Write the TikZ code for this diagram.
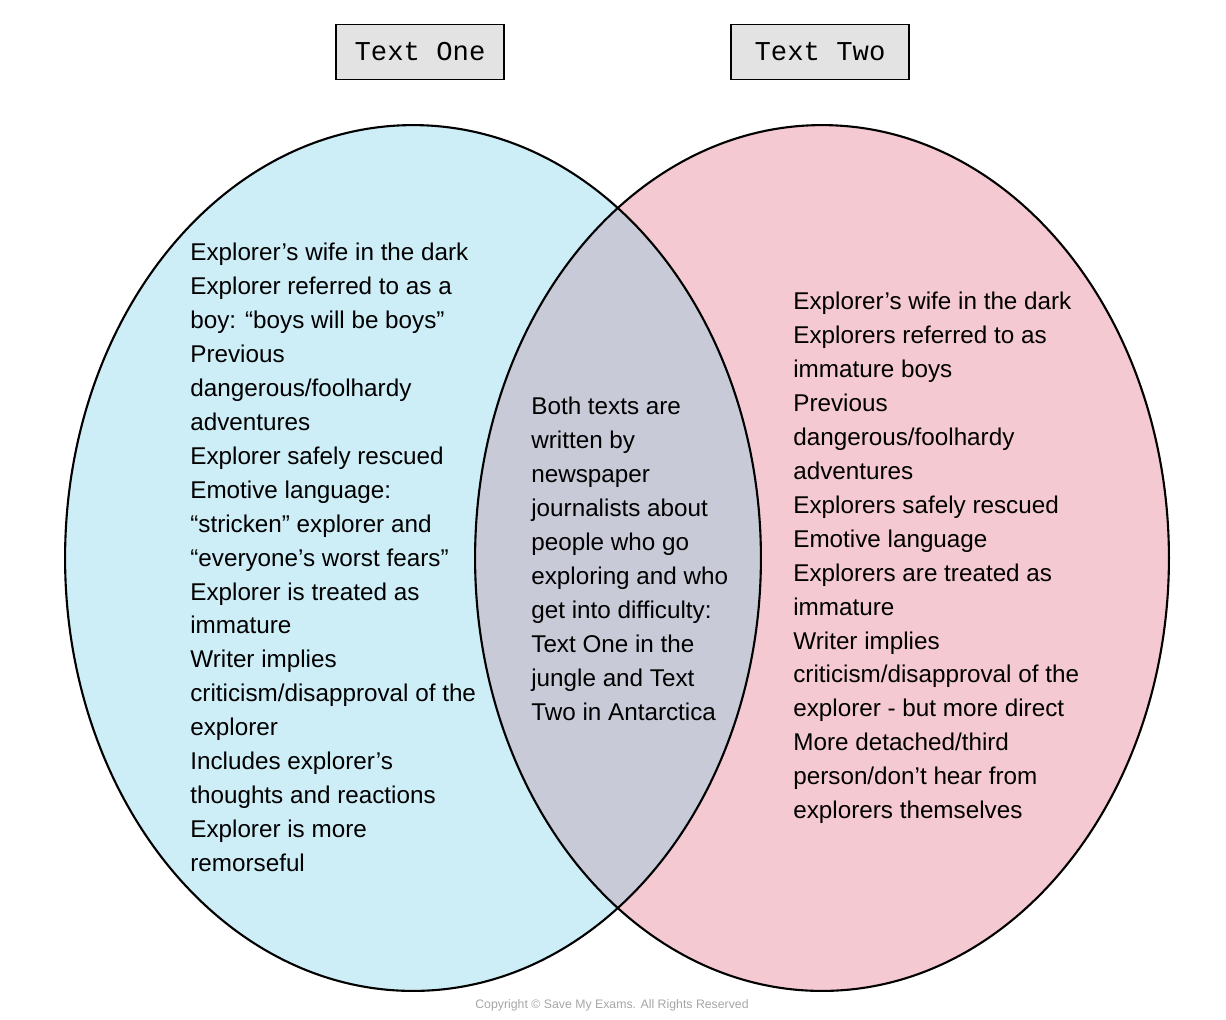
\documentclass[tikz,border=0pt]{standalone}
\usepackage{fontspec}
\setmainfont{Liberation Sans}
\newfontfamily\titlefont{Liberation Mono}
\usetikzlibrary{positioning}
\definecolor{oneblue}{RGB}{205,237,247}
\definecolor{twopink}{RGB}{244,201,209}
\definecolor{bothgrey}{RGB}{200,202,216}
\definecolor{boxgrey}{RGB}{227,227,227}
\tikzset{
    titlebox/.style={draw=black,fill=boxgrey,line width=0.9pt,minimum width=3.36cm,minimum height=1.1cm,font=\titlefont\fontsize{15.5}{18}\selectfont},
    venntext/.style={anchor=north west,inner sep=0pt,align=left,font=\fontsize{13.8}{19.3}\selectfont},
    vennline/.style={draw=black,line width=1.2pt}
}

\begin{document}
\begin{tikzpicture}[x=0.02cm,y=-0.02cm]
    \useasboundingbox (0,0) rectangle (1226,1019);
    %Circles
    \coordinate (one) at (413,558);
    \coordinate (two) at (822,558);
    \fill[oneblue] (one) ellipse [x radius=6.96cm,y radius=8.66cm];
    \fill[twopink] (two) ellipse [x radius=6.94cm,y radius=8.66cm];
    \begin{scope}
        \clip (one) ellipse [x radius=6.96cm,y radius=8.66cm];
        \fill[bothgrey] (two) ellipse [x radius=6.94cm,y radius=8.66cm];
    \end{scope}
    \draw[vennline] (one) ellipse [x radius=6.96cm,y radius=8.66cm];
    \draw[vennline] (two) ellipse [x radius=6.94cm,y radius=8.66cm];
    %Titles
    \node[titlebox] (titleone) at (420,52) {Text One};
    \node[titlebox,minimum width=3.56cm] (titletwo) at (820,52) {Text Two};
    %Text One only
    \node[venntext] (onlyone) at (190,243) {Explorer’s wife in the dark\\Explorer referred to as a\\boy: “boys will be boys”\\Previous\\dangerous/foolhardy\\adventures\\Explorer safely rescued\\Emotive language:\\“stricken” explorer and\\“everyone’s worst fears”\\Explorer is treated as\\immature\\Writer implies\\criticism/disapproval of the\\explorer\\Includes explorer’s\\thoughts and reactions\\Explorer is more\\remorseful};
    %Both
    \node[venntext] (both) at (531,397) {Both texts are\\written by\\newspaper\\journalists about\\people who go\\exploring and who\\get into difficulty:\\Text One in the\\jungle and Text\\Two in Antarctica};
    %Text Two only
    \node[venntext] (onlytwo) at (793,292) {Explorer’s wife in the dark\\Explorers referred to as\\immature boys\\Previous\\dangerous/foolhardy\\adventures\\Explorers safely rescued\\Emotive language\\Explorers are treated as\\immature\\Writer implies\\criticism/disapproval of the\\explorer - but more direct\\More detached/third\\person/don’t hear from\\explorers themselves};
    %Copyright
    \node[text=black!35,font=\fontsize{7}{8}\selectfont] (copyright) at (612,1005) {Copyright © Save My Exams. All Rights Reserved};
\end{tikzpicture}
\end{document}
